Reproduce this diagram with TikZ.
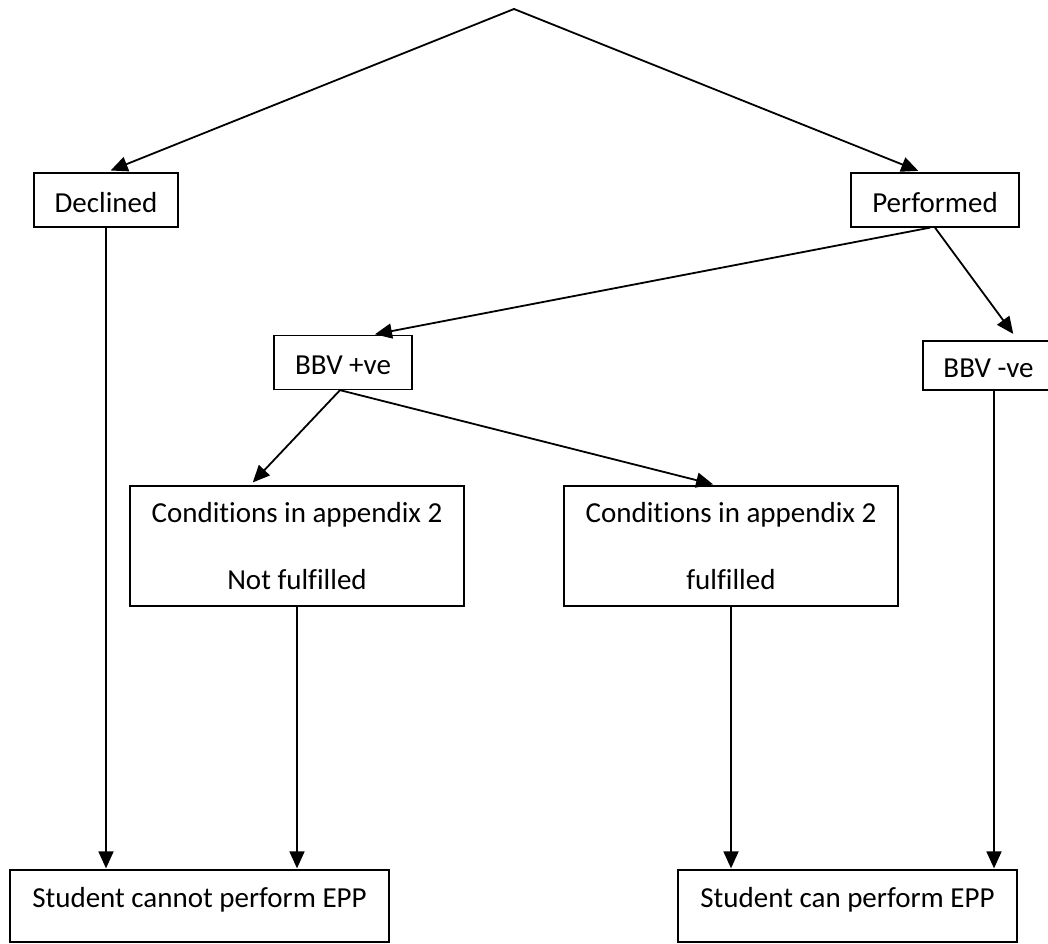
\documentclass[tikz,border=0pt]{standalone}
\usepackage{fontspec}
\setmainfont{Carlito}[Ligatures=CommonOff]
\usetikzlibrary{arrows.meta}
\begin{document}
\begin{tikzpicture}[x=1pt, y=-1pt, font=\fontsize{29}{35}\selectfont,
        box/.style = {draw, line width=1.3pt, inner sep=0pt},
        small/.style = {box, minimum height=54pt, text height=24pt, text depth=0pt},
        cond/.style = {box, minimum width=334pt, minimum height=120pt, align=center},
        final/.style = {box, minimum height=72pt, text height=21pt, text depth=19pt},
        arr/.style = {-{Triangle[length=17pt, width=15pt]}, line width=1.8pt, line cap=round}]
    \useasboundingbox (0,0) rectangle (1048,943);
    \coordinate (top) at (514,9);
    \node[small, minimum width=144pt] (dec) at (106,200) {Declined};
    \node[small, minimum width=168pt] (perf) at (935,200) {Performed};
    \node[small, minimum width=138pt] (bbvp) at (343,362.5) {BBV +ve};
    \node[small, minimum width=131pt, minimum height=49pt] (bbvn) at (988.5,365.5) {BBV -ve};
    \node[cond] (condn) at (297,546) {Conditions in appendix 2\\[32pt]Not fulfilled};
    \node[cond] (condf) at (731,546) {Conditions in appendix 2\\[32pt]fulfilled};
    \node[final, minimum width=379pt] (cannot) at (199.5,906) {Student cannot perform EPP};
    \node[final, minimum width=339pt] (can) at (847.5,906) {Student can perform EPP};
    \coordinate (bbvnout) at ([xshift=5.5pt]bbvn.south);
    % top split
    \draw[arr, shorten >=5pt] (top) -- (dec.north);
    \draw[arr, shorten >=4pt] (top) -- ([xshift=-13pt]perf.north);
    % performed branches
    \draw[arr, shorten >=3pt] ([xshift=-5pt]perf.south) -- ([xshift=29pt]bbvp.north);
    \draw[arr, shorten >=8pt] (perf.south) -- ([xshift=29.5pt]bbvn.north);
    \draw[arr, shorten >=4pt] ([xshift=-3pt]bbvp.south) -- ([xshift=-47pt]condn.north);
    \draw[arr, shorten >=4pt] ([xshift=-3pt]bbvp.south) -- ([xshift=-14pt]condf.north);
    % down to outcomes
    \draw[arr, shorten >=1pt] (dec.south) -- (dec.south |- cannot.north);
    \draw[arr, shorten >=1pt] (condn.south) -- (condn.south |- cannot.north);
    \draw[arr, shorten >=1pt] (condf.south) -- (condf.south |- can.north);
    \draw[arr, shorten >=1pt] (bbvnout) -- (bbvnout |- can.north);
\end{tikzpicture}
\end{document}
